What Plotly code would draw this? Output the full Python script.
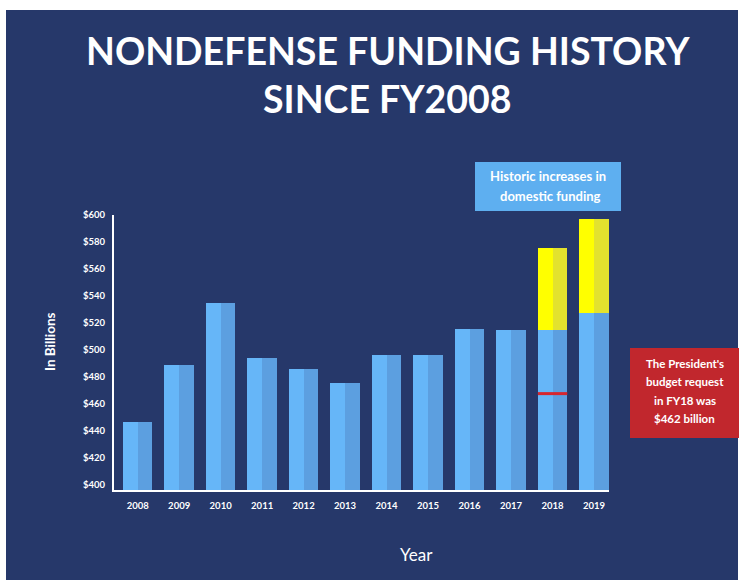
import plotly.graph_objects as go

# ---- data ----
years = ["2008", "2009", "2010", "2011", "2012", "2013",
         "2014", "2015", "2016", "2017", "2018", "2019"]
funding = [446.7, 488.4, 534.7, 494.1, 485.6, 475.7,
           496.4, 496.4, 515.7, 515.0, 514.4, 527.3]
increase_years = ["2018", "2019"]
increase_base = [514.4, 527.3]
increase_top = [575.2, 597.0]
request_year = ["2018"]
request_value = [467.5]
y_ticks = [400, 420, 440, 460, 480, 500, 520, 540, 560, 580, 600]
y_tick_labels = ["$" + str(v) for v in y_ticks]

increase_amt = [t - b for t, b in zip(increase_top, increase_base)]

NAVY = "#26386A"
BLUE_L = "#66B6F8"
BLUE_D = "#5C9FE0"
YEL_L = "#FFFF00"
YEL_D = "#E3E22E"
RED = "#C1272D"
FONT = "Lato"

# plot-area geometry in pixels (for placing decorations)
L, T, PW, PH = 114, 215, 495, 275
W, H = 739, 580


def px(x):
    return (x - L) / PW


def py(y):
    return (T + PH - y) / PH


BW = 0.355
fig = go.Figure()
fig.add_trace(go.Bar(x=years, y=funding, width=BW, offset=-BW,
                     marker=dict(color=BLUE_L, line=dict(width=0)),
                     showlegend=False, hoverinfo="x+y"))
fig.add_trace(go.Bar(x=years, y=funding, width=BW, offset=0,
                     marker=dict(color=BLUE_D, line=dict(width=0)),
                     showlegend=False, hoverinfo="x+y"))
fig.add_trace(go.Bar(x=increase_years, y=increase_amt, base=increase_base,
                     width=BW, offset=-BW,
                     marker=dict(color=YEL_L, line=dict(width=0)),
                     showlegend=False))
fig.add_trace(go.Bar(x=increase_years, y=increase_amt, base=increase_base,
                     width=BW, offset=0,
                     marker=dict(color=YEL_D, line=dict(width=0)),
                     showlegend=False))
fig.add_trace(go.Scatter(x=request_year, y=request_value, mode="markers",
                         marker=dict(symbol="line-ew", size=21,
                                     line=dict(width=3, color="#D7262E")),
                         showlegend=False))

shapes = [
    # navy background panel with thin white border around it
    dict(type="rect", xref="paper", yref="paper", layer="below",
         x0=px(6), x1=px(738), y0=py(10), y1=py(581),
         fillcolor=NAVY, line=dict(width=0)),
    # light-blue callout box
    dict(type="rect", xref="paper", yref="paper",
         x0=px(475), x1=px(621), y0=py(162), y1=py(211),
         fillcolor="#5EAFF0", line=dict(width=0)),
    # red callout box
    dict(type="rect", xref="paper", yref="paper",
         x0=px(630), x1=px(739), y0=py(348), y1=py(438),
         fillcolor=RED, line=dict(width=0)),
]

annotations = []


def txt(text, x, y, size, weight="normal", angle=0):
    annotations.append(dict(
        text=text, xref="paper", yref="paper", x=px(x), y=py(y),
        xanchor="center", yanchor="middle", showarrow=False,
        textangle=angle,
        font=dict(family=FONT, size=size, color="white", weight=weight)))


txt("NONDEFENSE FUNDING HISTORY", 387.5, 51, 37.5, weight="bold")
txt("SINCE FY2008", 387.5, 99, 37.5, weight="bold")
txt("In Billions", 50, 342, 13.5, weight="bold", angle=-90)
txt("Year", 416, 554, 17)
txt("Historic increases in", 548, 176, 13, weight="bold")
txt("domestic funding", 550, 196, 13, weight="bold")
for i, line in enumerate(["The President's", "budget request",
                          "in FY18 was", "$462 billion"]):
    txt(line, 684.5, 363 + i * 18.5, 11.5, weight="bold")

fig.update_layout(
    width=W, height=H,
    margin=dict(l=L, r=W - L - PW, t=T, b=H - T - PH, pad=0),
    paper_bgcolor="white",
    plot_bgcolor="rgba(0,0,0,0)",
    barmode="overlay",
    bargap=0,
    shapes=shapes,
    annotations=annotations,
    xaxis=dict(type="category", range=[-0.57, 11.36],
               showgrid=False, zeroline=False,
               showline=True, linecolor="white", linewidth=2,
               ticks="", ticklabelstandoff=6,
               tickfont=dict(family=FONT, size=9.5, color="white",
                             weight="bold")),
    yaxis=dict(range=[396, 600], tickvals=y_ticks, ticktext=y_tick_labels,
               showgrid=False, zeroline=False,
               showline=True, linecolor="white", linewidth=2,
               ticks="", ticklabelstandoff=5,
               tickfont=dict(family=FONT, size=9.5, color="white",
                             weight="bold")),
    font=dict(family=FONT, color="white"),
)

fig.write_html("out.html",
               config={"displayModeBar": False},
               post_script="document.body.style.margin='0';"
                           "document.body.style.overflow='hidden';")
